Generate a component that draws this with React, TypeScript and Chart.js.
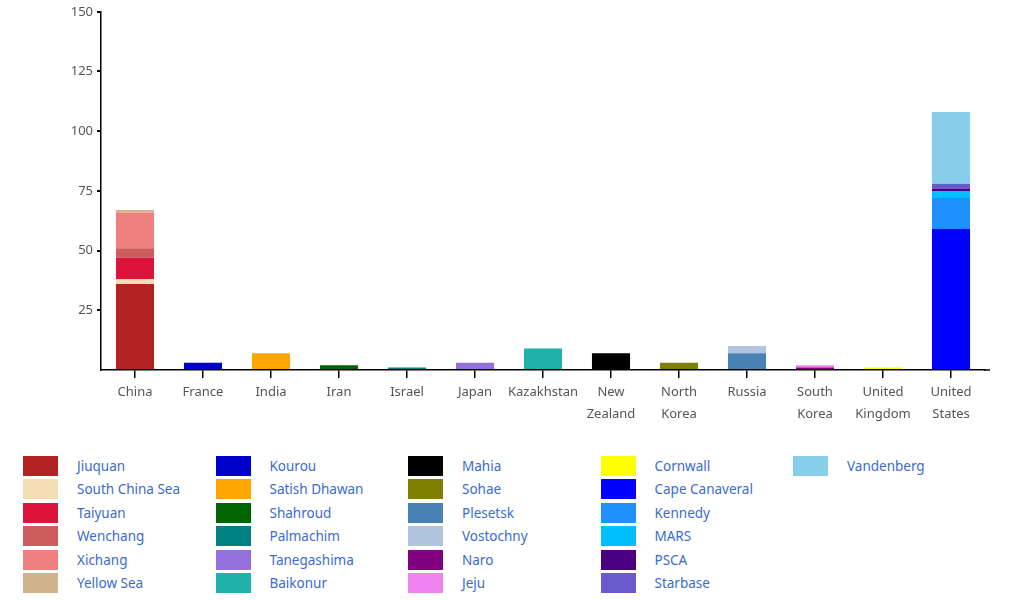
import { useEffect, useRef } from "react"
import { Chart, registerables } from "chart.js"

Chart.register(...registerables)

const countries = [
  "China", ["France"], "India", "Iran", "Israel", "Japan", "Kazakhstan",
  ["New", "Zealand"], ["North", "Korea"], "Russia", ["South", "Korea"],
  ["United", "Kingdom"], ["United", "States"],
]

// one value per country, in the same order as countries
const jiuquan = [36, 0, 0, 0, 0, 0, 0, 0, 0, 0, 0, 0, 0]
const southChinaSea = [2, 0, 0, 0, 0, 0, 0, 0, 0, 0, 0, 0, 0]
const taiyuan = [9, 0, 0, 0, 0, 0, 0, 0, 0, 0, 0, 0, 0]
const wenchang = [4, 0, 0, 0, 0, 0, 0, 0, 0, 0, 0, 0, 0]
const xichang = [15, 0, 0, 0, 0, 0, 0, 0, 0, 0, 0, 0, 0]
const yellowSea = [1, 0, 0, 0, 0, 0, 0, 0, 0, 0, 0, 0, 0]
const kourou = [0, 3, 0, 0, 0, 0, 0, 0, 0, 0, 0, 0, 0]
const satishDhawan = [0, 0, 7, 0, 0, 0, 0, 0, 0, 0, 0, 0, 0]
const shahroud = [0, 0, 0, 2, 0, 0, 0, 0, 0, 0, 0, 0, 0]
const palmachim = [0, 0, 0, 0, 1, 0, 0, 0, 0, 0, 0, 0, 0]
const tanegashima = [0, 0, 0, 0, 0, 3, 0, 0, 0, 0, 0, 0, 0]
const baikonur = [0, 0, 0, 0, 0, 0, 9, 0, 0, 0, 0, 0, 0]
const mahia = [0, 0, 0, 0, 0, 0, 0, 7, 0, 0, 0, 0, 0]
const sohae = [0, 0, 0, 0, 0, 0, 0, 0, 3, 0, 0, 0, 0]
const plesetsk = [0, 0, 0, 0, 0, 0, 0, 0, 0, 7, 0, 0, 0]
const vostochny = [0, 0, 0, 0, 0, 0, 0, 0, 0, 3, 0, 0, 0]
const naro = [0, 0, 0, 0, 0, 0, 0, 0, 0, 0, 1, 0, 0]
const jeju = [0, 0, 0, 0, 0, 0, 0, 0, 0, 0, 1, 0, 0]
const cornwall = [0, 0, 0, 0, 0, 0, 0, 0, 0, 0, 0, 1, 0]
const capeCanaveral = [0, 0, 0, 0, 0, 0, 0, 0, 0, 0, 0, 0, 59]
const kennedy = [0, 0, 0, 0, 0, 0, 0, 0, 0, 0, 0, 0, 13]
const mars = [0, 0, 0, 0, 0, 0, 0, 0, 0, 0, 0, 0, 3]
const psca = [0, 0, 0, 0, 0, 0, 0, 0, 0, 0, 0, 0, 1]
const starbase = [0, 0, 0, 0, 0, 0, 0, 0, 0, 0, 0, 0, 2]
const vandenberg = [0, 0, 0, 0, 0, 0, 0, 0, 0, 0, 0, 0, 30]

const sites = [
  { name: "Jiuquan", color: "firebrick", data: jiuquan },
  { name: "South China Sea", color: "wheat", data: southChinaSea },
  { name: "Taiyuan", color: "crimson", data: taiyuan },
  { name: "Wenchang", color: "indianred", data: wenchang },
  { name: "Xichang", color: "lightcoral", data: xichang },
  { name: "Yellow Sea", color: "tan", data: yellowSea },
  { name: "Kourou", color: "mediumblue", data: kourou },
  { name: "Satish Dhawan", color: "orange", data: satishDhawan },
  { name: "Shahroud", color: "darkgreen", data: shahroud },
  { name: "Palmachim", color: "teal", data: palmachim },
  { name: "Tanegashima", color: "mediumpurple", data: tanegashima },
  { name: "Baikonur", color: "lightseagreen", data: baikonur },
  { name: "Mahia", color: "black", data: mahia },
  { name: "Sohae", color: "olive", data: sohae },
  { name: "Plesetsk", color: "steelblue", data: plesetsk },
  { name: "Vostochny", color: "lightsteelblue", data: vostochny },
  { name: "Naro", color: "purple", data: naro },
  { name: "Jeju", color: "violet", data: jeju },
  { name: "Cornwall", color: "yellow", data: cornwall },
  { name: "Cape Canaveral", color: "blue", data: capeCanaveral },
  { name: "Kennedy", color: "dodgerblue", data: kennedy },
  { name: "MARS", color: "deepskyblue", data: mars },
  { name: "PSCA", color: "indigo", data: psca },
  { name: "Starbase", color: "slateblue", data: starbase },
  { name: "Vandenberg", color: "skyblue", data: vandenberg },
]

const yTicks = [25, 50, 75, 100, 125, 150]

Chart.defaults.font.family = "'Noto Sans', sans-serif"

// the x axis line runs a little past the last category
const axisExtend = {
  id: "axisExtend",
  afterDraw(chart: any) {
    const { ctx, chartArea } = chart
    ctx.save()
    ctx.strokeStyle = "black"
    ctx.lineWidth = 1.5
    ctx.beginPath()
    ctx.moveTo(chartArea.right - 1, chartArea.bottom)
    ctx.lineTo(chartArea.right + 5, chartArea.bottom)
    ctx.stroke()
    ctx.restore()
  },
}

export default function App() {
  const chartRef = useRef<HTMLCanvasElement>(null)
  const chartInstance = useRef<Chart | null>(null)

  useEffect(() => {
    document.body.style.margin = "0"
    if (!chartRef.current) return

    if (chartInstance.current) {
      chartInstance.current.destroy()
    }

    const ctx = chartRef.current.getContext("2d")
    if (!ctx) return

    chartInstance.current = new Chart(ctx, {
      type: "bar",
      data: {
        labels: countries,
        datasets: sites.map((s) => ({
          label: s.name,
          data: s.data,
          backgroundColor: s.color,
          borderWidth: 0,
          barPercentage: 0.56,
          categoryPercentage: 1,
        })),
      },
      plugins: [axisExtend],
      options: {
        responsive: true,
        maintainAspectRatio: false,
        animation: false,
        layout: { padding: { top: 11, right: 28, left: 0, bottom: 0 } },
        plugins: {
          legend: { display: false },
          tooltip: { enabled: false },
        },
        scales: {
          x: {
            stacked: true,
            afterFit: (scale: any) => {
              scale.height = 69
            },
            border: { color: "black", width: 1.5 },
            grid: {
              offset: false,
              drawOnChartArea: false,
              color: "black",
              lineWidth: 1.5,
              tickLength: 8,
            },
            ticks: {
              color: "#555",
              padding: 3,
              maxRotation: 0,
              autoSkip: false,
              font: { size: 13, lineHeight: 1.7 },
            },
          },
          y: {
            stacked: true,
            min: 0,
            max: 150,
            afterFit: (scale: any) => {
              scale.width = 101
            },
            afterBuildTicks: (scale: any) => {
              scale.ticks = [{ value: 0 }, ...yTicks.map((v) => ({ value: v }))]
            },
            border: { color: "black", width: 1.5 },
            grid: {
              drawOnChartArea: false,
              color: (c: any) => (c.tick && c.tick.value === 0 ? "transparent" : "black"),
              lineWidth: 2,
              tickLength: 4,
            },
            ticks: {
              color: "#555",
              padding: 4,
              font: { size: 13 },
              callback: (v: any) => (v === 0 ? "" : String(v)),
            },
          },
        },
      },
    })

    return () => {
      if (chartInstance.current) {
        chartInstance.current.destroy()
      }
    }
  }, [])

  return (
    <div style={{ width: 1013, fontFamily: "'Noto Sans', sans-serif" }}>
      <div style={{ position: "relative", height: 439 }}>
        <canvas ref={chartRef} />
      </div>
      <div
        style={{
          display: "grid",
          gridTemplateRows: "repeat(6, 23.4px)",
          gridAutoFlow: "column",
          gridAutoColumns: "192.5px",
          paddingLeft: 23,
          marginTop: 15.3,
        }}
      >
        {sites.map((s) => (
          <div key={s.name} style={{ display: "flex", alignItems: "center" }}>
            <span
              style={{
                display: "inline-block",
                width: 35,
                height: 20,
                background: s.color,
                marginRight: 19,
              }}
            />
            <span style={{ color: "#3a6bcf", fontSize: 13.5, whiteSpace: "nowrap" }}>{s.name}</span>
          </div>
        ))}
      </div>
    </div>
  )
}
